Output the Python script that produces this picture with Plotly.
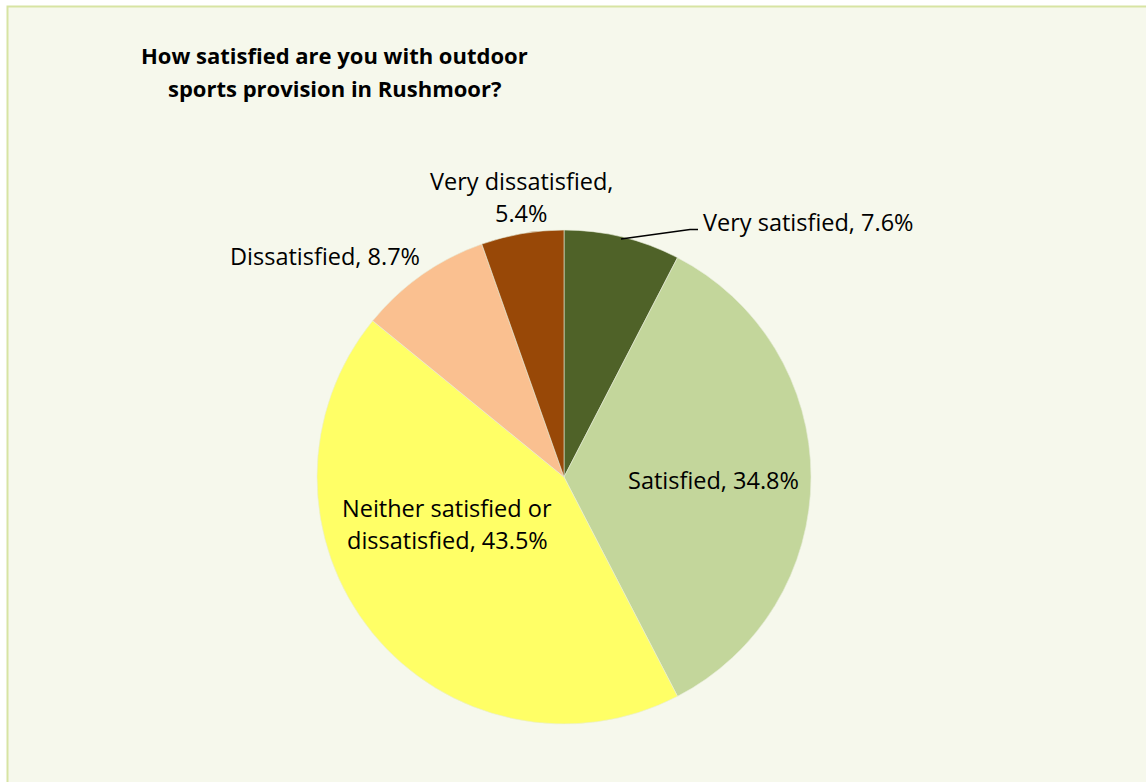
import plotly.graph_objects as go

W, H = 1146, 782

title_lines = ["How satisfied are you with outdoor", "sports provision in Rushmoor?"]
categories = ["Very satisfied", "Satisfied", "Neither satisfied or dissatisfied",
              "Dissatisfied", "Very dissatisfied"]
values = [7.6, 34.8, 43.5, 8.7, 5.4]
colors = ["#4F6228", "#C3D69B", "#FFFF66", "#FAC090", "#984807"]

# label line-splitting as in the reference
label_lines = [
    [f"{categories[0]}, {values[0]}%"],
    [f"{categories[1]}, {values[1]}%"],
    ["Neither satisfied or", f"dissatisfied, {values[2]}%"],
    [f"{categories[3]}, {values[3]}%"],
    [f"{categories[4]},", f"{values[4]}%"],
]
# label centre positions (px) and line spacing
label_pos = [(808, 222), (713, 480), (447, 524), (325, 256), (521, 197)]
LINE_H = 32

FONT = "Open Sans, Calibri, sans-serif"

fig = go.Figure()
cx, cy, r = 564, 477, 247
fig.add_trace(go.Pie(
    labels=categories, values=values, sort=False, direction="clockwise",
    rotation=0,
    marker=dict(colors=colors, line=dict(color="#E8EDDA", width=0.6)),
    textinfo="none", hoverinfo="label+percent", showlegend=False,
    domain=dict(x=[(cx - r) / W, (cx + r) / W], y=[(H - cy - r) / H, (H - cy + r) / H]),
))

def px(x):
    return x / W

def py(y):
    return 1 - y / H

anns = []
for i, line in enumerate(title_lines):
    anns.append(dict(x=px(334), y=py(55 + 33 * i), text=f"<b>{line}</b>", showarrow=False,
                     xanchor="center", yanchor="middle",
                     font=dict(family=FONT, size=22, color="#000000")))
for lines, (lx, ly) in zip(label_lines, label_pos):
    n = len(lines)
    for j, t in enumerate(lines):
        yy = ly + (j - (n - 1) / 2) * LINE_H
        anns.append(dict(x=px(lx), y=py(yy), text=t, showarrow=False,
                         xanchor="center", yanchor="middle",
                         font=dict(family=FONT, size=23.5, color="#000000")))

shapes = [
    dict(type="rect", xref="paper", yref="paper", x0=px(7.5), y0=-0.01, x1=1.01, y1=py(6.5),
         fillcolor="#F6F8EC", line=dict(color="#D7E4A3", width=2), layer="below"),
    dict(type="path", xref="paper", yref="paper",
         path=f"M {px(621)},{py(239)} L {px(690)},{py(229.5)} L {px(698)},{py(229.5)}",
         line=dict(color="#000000", width=1.5)),
]

fig.update_layout(
    width=W, height=H, margin=dict(l=0, r=0, t=0, b=0),
    paper_bgcolor="#FFFFFF", plot_bgcolor="#FFFFFF",
    annotations=anns, shapes=shapes,
)

fig.write_html("out.html")
